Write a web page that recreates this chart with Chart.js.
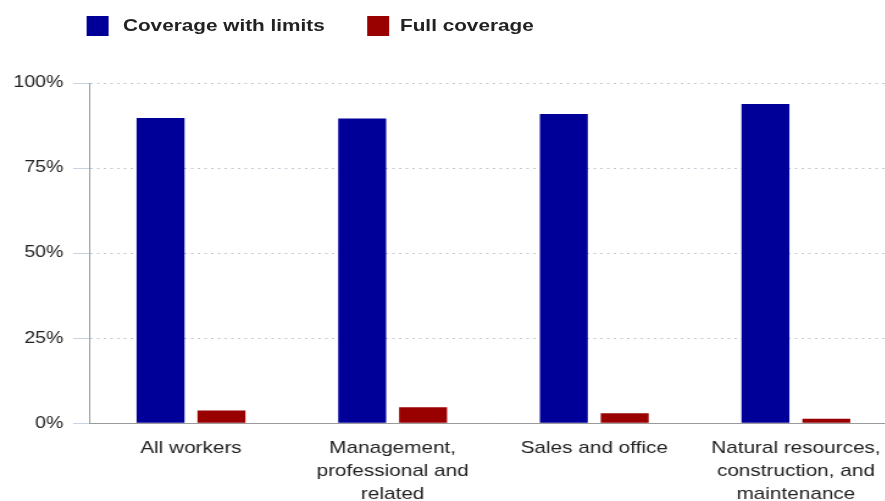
<!DOCTYPE html>
<html>
<head>
<meta charset="utf-8">
<script src="https://cdn.jsdelivr.net/npm/chart.js@4"></script>
<style>
  html, body { margin: 0; padding: 0; background: #fff; overflow: hidden; width: 885px; height: 501px; }
  #wrap { position: absolute; left: 0; top: 0; width: 740px; height: 501px; transform: scaleX(1.22); transform-origin: 0 0; }
  #legend { position: absolute; left: 0; top: 0; width: 740px; height: 60px; font-family: "Liberation Sans", Arial, sans-serif; font-weight: bold; font-size: 17px; color: #222; }
  .lg-box { position: absolute; top: 16px; width: 18px; height: 20px; }
  .lg-txt { position: absolute; top: 16px; line-height: 20px; white-space: nowrap; }
  canvas { position: absolute; left: 0; top: 0; }
</style>
</head>
<body>
<div id="wrap">
  <canvas id="c" width="740" height="501"></canvas>
  <div id="legend"></div>
</div>
<script>
const categories = [
  ["All workers"],
  ["Management,", "professional and", "related"],
  ["Sales and office"],
  ["Natural resources,", "construction, and", "maintenance"]
];
const seriesNames = ["Coverage with limits", "Full coverage"];
const coverageWithLimits = [89.7, 89.6, 90.9, 93.8];
const fullCoverage = [3.7, 4.7, 2.9, 1.3];
const yTicks = [0, 25, 50, 75, 100];
const colors = ["#000099", "#990000"];

// HTML legend built from the series names/colours
const legend = document.getElementById('legend');
const legendPos = [[71.3, 100.8], [300.8, 327.9]];
seriesNames.forEach((name, i) => {
  const b = document.createElement('div');
  b.className = 'lg-box';
  b.style.left = legendPos[i][0] + 'px';
  b.style.background = colors[i];
  legend.appendChild(b);
  const t = document.createElement('div');
  t.className = 'lg-txt';
  t.style.left = legendPos[i][1] + 'px';
  t.textContent = name;
  legend.appendChild(t);
});

new Chart(document.getElementById('c'), {
  type: 'bar',
  data: {
    labels: categories,
    datasets: [
      { label: seriesNames[0], data: coverageWithLimits, backgroundColor: colors[0], borderWidth: 0,
        barPercentage: 0.787, categoryPercentage: 0.604 },
      { label: seriesNames[1], data: fullCoverage, backgroundColor: colors[1], borderWidth: 0,
        barPercentage: 0.787, categoryPercentage: 0.604 }
    ]
  },
  options: {
    responsive: false,
    animation: false,
    devicePixelRatio: 1,
    layout: { padding: { top: 83, left: 3, right: 5, bottom: -19 } },
    plugins: { legend: { display: false }, tooltip: { enabled: false }, title: { display: false } },
    scales: {
      x: {
        grid: { display: false, drawTicks: false },
        border: { display: true, color: '#9a9a9a', width: 1 },
        ticks: {
          color: '#222',
          padding: 14,
          maxRotation: 0,
          autoSkip: false,
          font: { family: '"Liberation Sans", Arial, sans-serif', size: 17, lineHeight: 1.35 }
        }
      },
      y: {
        min: 0,
        max: 100,
        afterBuildTicks: (axis) => { axis.ticks = yTicks.map(v => ({ value: v })); },
        grid: {
          color: '#c2c8d2',
          lineWidth: 1,
          drawTicks: true,
          tickLength: 14,
          tickColor: '#c5d3e3',
          tickWidth: 1,
          tickBorderDash: []
        },
        border: { display: true, color: '#9a9a9a', width: 1, dash: [2, 3.5] },
        ticks: {
          color: '#222',
          padding: 8,
          font: { family: '"Liberation Sans", Arial, sans-serif', size: 16 },
          callback: (v) => v + '%'
        }
      }
    }
  }
});
</script>
</body>
</html>
